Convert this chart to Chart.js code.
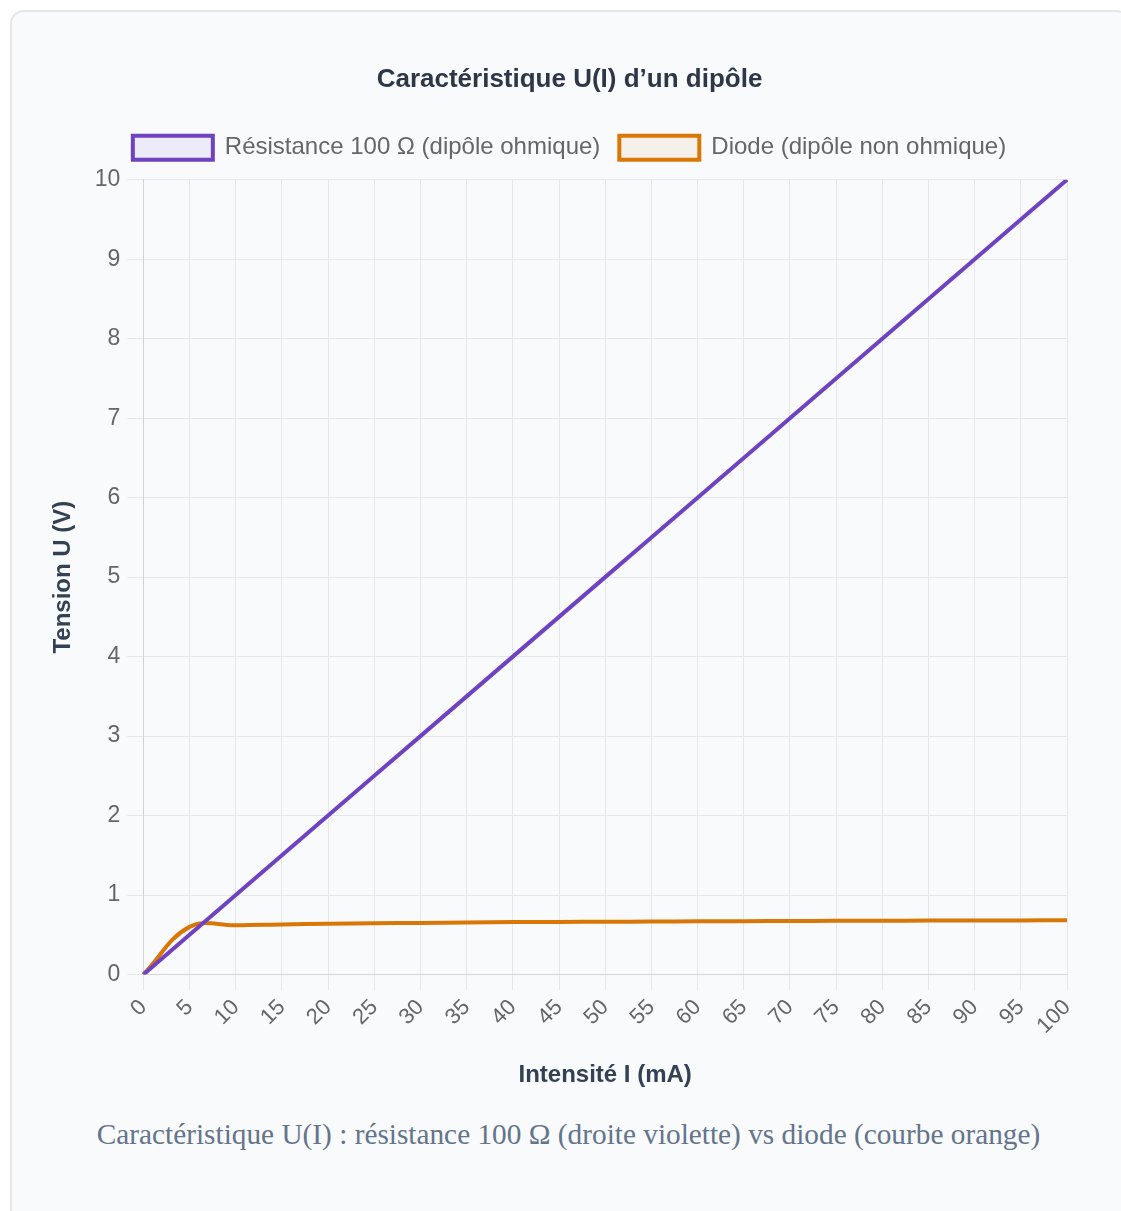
<!DOCTYPE html>
<html lang="fr">
<head>
<meta charset="utf-8">
<title>Caractéristique U(I)</title>
<script src="https://cdn.jsdelivr.net/npm/chart.js@4.4.1/dist/chart.umd.min.js"></script>
<style>
  html, body { margin: 0; padding: 0; background: #ffffff; overflow: hidden; }
  .card {
    position: absolute;
    left: 10px;
    top: 10px;
    width: 1120px;
    height: 1240px;
    box-sizing: border-box;
    background: #f8fafc;
    border: 2px solid #e2e8f0;
    border-radius: 14px;
    padding: 28px 36px 0 33px;
  }
  .chart-box { position: relative; width: 1049px; height: 1054px; }
  .caption {
    margin: 24px 0 0 0;
    text-align: center;
    font-family: "Liberation Serif", "DejaVu Serif", serif;
    font-size: 29.3px;
    color: #64748b;
  }
</style>
</head>
<body>
<div class="card">
  <div class="chart-box"><canvas id="ui-chart"></canvas></div>
  <p class="caption">Caractéristique U(I) : résistance 100 Ω (droite violette) vs diode (courbe orange)</p>
</div>
<script>
// intensité en mA
const intensites = [0, 5, 10, 15, 20, 25, 30, 35, 40, 45, 50, 55, 60, 65, 70, 75, 80, 85, 90, 95, 100];
// U = R.I pour R = 100 ohm
const tensionResistance = [0, 0.5, 1, 1.5, 2, 2.5, 3, 3.5, 4, 4.5, 5, 5.5, 6, 6.5, 7, 7.5, 8, 8.5, 9, 9.5, 10];
const tensionDiode = [0, 0.60, 0.62, 0.63, 0.64, 0.645, 0.65, 0.655, 0.66, 0.662, 0.665, 0.667, 0.67, 0.672, 0.674, 0.676, 0.678, 0.679, 0.68, 0.681, 0.683];
const yTicks = [0, 1, 2, 3, 4, 5, 6, 7, 8, 9, 10];

const violet = '#6f42c1';
const orange = '#d97706';

Chart.defaults.font.family = '"Liberation Sans", Arial, sans-serif';

// a bit more room between legend and plot
const legendSpacer = {
  id: 'legendSpacer',
  beforeInit(chart) {
    const fit = chart.legend.fit;
    chart.legend.fit = function () {
      fit.bind(chart.legend)();
      this.height += 10;
    };
  },
};

const ctx = document.getElementById('ui-chart').getContext('2d');

new Chart(ctx, {
  type: 'line',
  data: {
    labels: intensites,
    datasets: [
      {
        label: 'Résistance 100 Ω (dipôle ohmique)',
        data: tensionResistance,
        borderColor: violet,
        backgroundColor: 'rgba(111, 66, 193, 0.08)',
        borderWidth: 4,
        pointRadius: 0,
        tension: 0,
        fill: false,
      },
      {
        label: 'Diode (dipôle non ohmique)',
        data: tensionDiode,
        borderColor: orange,
        backgroundColor: 'rgba(217, 119, 6, 0.07)',
        borderWidth: 4,
        pointRadius: 0,
        tension: 0.4,
        fill: false,
      },
    ],
  },
  plugins: [legendSpacer],
  options: {
    responsive: true,
    maintainAspectRatio: false,
    animation: false,
    plugins: {
      title: {
        display: true,
        text: 'Caractéristique U(I) d’un dipôle',
        color: '#2d3748',
        font: { size: 26, weight: 'bold' },
        padding: { top: 24.5, bottom: 21 },
      },
      legend: {
        labels: {
          color: '#666666',
          font: { size: 24 },
          boxWidth: 80,
          boxHeight: 24,
          padding: 19,
        },
      },
      tooltip: { enabled: false },
    },
    scales: {
      x: {
        type: 'category',
        offset: false,
        afterFit: (scale) => {
          scale.paddingRight = 27;
        },
        title: {
          display: true,
          text: 'Intensité I (mA)',
          color: '#334155',
          font: { size: 24, weight: 'bold' },
          padding: { top: 18, bottom: 4 },
        },
        ticks: {
          color: '#666666',
          font: { size: 22 },
          minRotation: 45,
          maxRotation: 45,
          padding: 4,
        },
        grid: { color: '#e5e7eb', tickLength: 16 },
        border: { color: '#d4d4d8' },
      },
      y: {
        min: 0,
        max: 10,
        afterBuildTicks: (axis) => {
          axis.ticks = yTicks.map((v) => ({ value: v }));
        },
        title: {
          display: true,
          text: 'Tension U (V)',
          color: '#334155',
          font: { size: 24, weight: 'bold' },
          padding: { top: 4, bottom: 10 },
        },
        ticks: {
          color: '#666666',
          font: { size: 23 },
          padding: 7,
        },
        grid: { color: '#e5e7eb', tickLength: 16 },
        border: { color: '#d4d4d8' },
      },
    },
  },
});
</script>
</body>
</html>
